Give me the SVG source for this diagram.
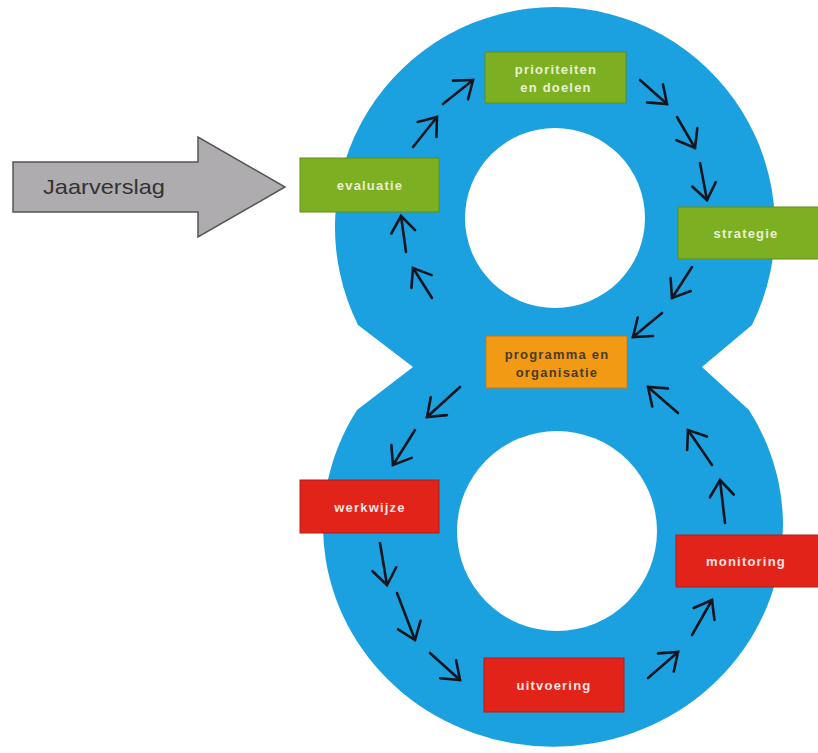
<svg xmlns="http://www.w3.org/2000/svg" width="818" height="753" viewBox="0 0 818 753">
<defs>
<style>
.box-g{fill:#7DAF22;stroke:#5E8E1A;stroke-width:1}
.box-r{fill:#E2231A;stroke:#B81A14;stroke-width:1}
.box-o{fill:#F39A14;stroke:#C97A0E;stroke-width:1}
.lbl{font-family:"Liberation Sans","Open Sans",sans-serif;font-weight:bold;font-size:13px;letter-spacing:1.2px;text-anchor:middle}
.lt-g{fill:#E9F0D2}
.lt-r{fill:#F8E4E0}
.lt-o{fill:#4A3A26}
.conn line{stroke:#15151f;stroke-width:2.6;stroke-linecap:round;marker-end:url(#vhead)}
</style>
<marker id="vhead" markerUnits="userSpaceOnUse" markerWidth="40" markerHeight="40" refX="0" refY="0" viewBox="-20 -20 40 40" orient="auto" overflow="visible">
<path d="M-16,-12 L0,0 L-16,12" fill="none" stroke="#15151f" stroke-width="2.6" stroke-linecap="round" stroke-linejoin="miter"/>
</marker>
</defs>
<rect x="0" y="0" width="818" height="753" fill="#ffffff"/>
<g id="figure8">
<path d="M413,367 L358,325 A220,220 0 1 1 752,325 L702,367 L749,410 A230,221 0 1 1 357,410 Z" fill="#1BA1E0"/>
<circle cx="555" cy="218" r="90" fill="#ffffff"/>
<circle cx="557" cy="531" r="100" fill="#ffffff"/>
</g>
<g id="jaarverslag">
<path d="M13,162 L198,162 L198,137 L285,187 L198,237 L198,212 L13,212 Z" fill="#AEACAE" stroke="#555555" stroke-width="1.5"/>
<text x="43" y="194" font-family="'Liberation Sans','Open Sans',sans-serif" font-size="21" fill="#333333" textLength="122" lengthAdjust="spacingAndGlyphs">Jaarverslag</text>
</g>
<g class="conn" id="connectors">
<line x1="443" y1="104" x2="473" y2="80"/>
<line x1="413" y1="147" x2="437" y2="117"/>
<line x1="406" y1="252" x2="401" y2="216"/>
<line x1="432" y1="298" x2="413" y2="268"/>
<line x1="640" y1="80" x2="667" y2="104"/>
<line x1="677" y1="117" x2="695" y2="148"/>
<line x1="700" y1="163" x2="707" y2="200"/>
<line x1="692" y1="267" x2="672" y2="298"/>
<line x1="662" y1="313" x2="633" y2="337"/>
<line x1="460" y1="387" x2="427" y2="417"/>
<line x1="415" y1="430" x2="393" y2="465"/>
<line x1="380" y1="543" x2="387" y2="585"/>
<line x1="397" y1="593" x2="415" y2="640"/>
<line x1="430" y1="653" x2="460" y2="680"/>
<line x1="648" y1="678" x2="678" y2="652"/>
<line x1="692" y1="635" x2="712" y2="600"/>
<line x1="725" y1="523" x2="720" y2="480"/>
<line x1="712" y1="465" x2="688" y2="430"/>
<line x1="678" y1="413" x2="648" y2="387"/>
</g>
<g id="prioriteiten">
<rect class="box-g" x="485" y="52" width="141" height="51"/>
<text class="lbl lt-g" x="556" y="74">prioriteiten</text>
<text class="lbl lt-g" x="556" y="92">en doelen</text>
</g>
<g id="evaluatie">
<rect class="box-g" x="300" y="158" width="139" height="54"/>
<text class="lbl lt-g" x="370" y="190">evaluatie</text>
</g>
<g id="strategie">
<rect class="box-g" x="678" y="207" width="142" height="52"/>
<text class="lbl lt-g" x="746" y="238">strategie</text>
</g>
<g id="programma">
<rect class="box-o" x="486" y="336" width="141" height="52"/>
<text class="lbl lt-o" x="557" y="359">programma en</text>
<text class="lbl lt-o" x="557" y="377">organisatie</text>
</g>
<g id="werkwijze">
<rect class="box-r" x="300" y="480" width="139" height="53"/>
<text class="lbl lt-r" x="370" y="512">werkwijze</text>
</g>
<g id="monitoring">
<rect class="box-r" x="676" y="535" width="144" height="52"/>
<text class="lbl lt-r" x="746" y="566">monitoring</text>
</g>
<g id="uitvoering">
<rect class="box-r" x="484" y="658" width="140" height="54"/>
<text class="lbl lt-r" x="554" y="690">uitvoering</text>
</g>
</svg>
